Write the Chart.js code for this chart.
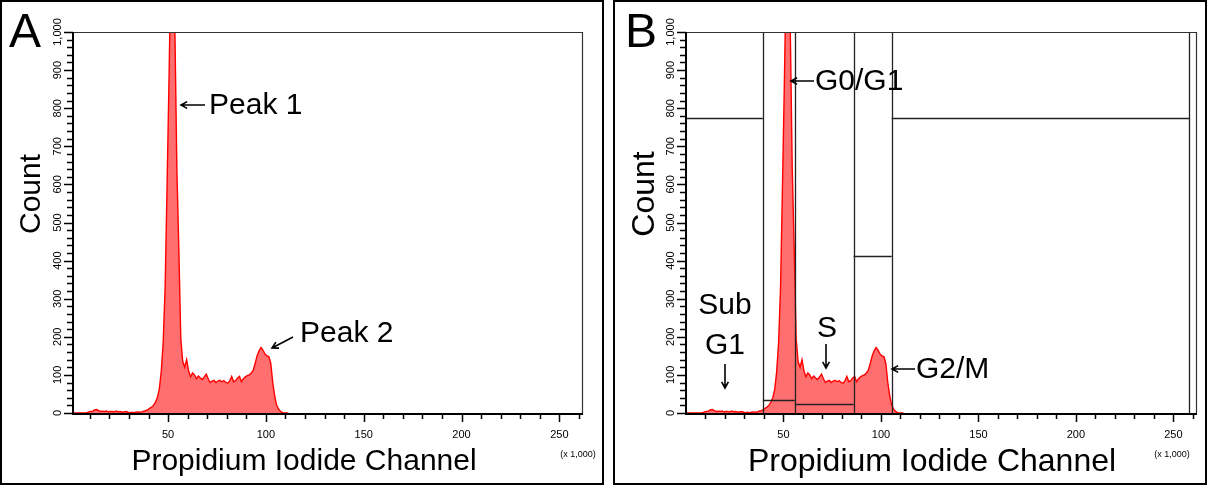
<!DOCTYPE html>
<html><head><meta charset="utf-8">
<script src="https://cdn.jsdelivr.net/npm/chart.js@4.4.1/dist/chart.umd.min.js"></script>
<style>
html,body{margin:0;padding:0;background:#fff;width:1207px;height:485px;overflow:hidden;}
.box{position:absolute;border:2px solid #000;box-sizing:border-box;pointer-events:none;}
.wrap{position:absolute;top:0;height:485px;}
canvas{display:block;}
</style></head><body>
<div class="wrap" style="left:0;width:604px"><canvas id="ca" width="604" height="485"></canvas></div>
<div class="wrap" style="left:604px;width:603px"><canvas id="cb" width="603" height="485"></canvas></div>
<div class="box" style="left:0;top:0;width:604px;height:485px"></div>
<div class="box" style="left:613px;top:0;width:594px;height:485px"></div>
<script>
// ---- data (channel in units of 1,000; one bin per unit) ----
const binStart = 0;
const counts = [
  0,0,0,0,0,0,0,0,1,3,          // 0-9
  4,5,8,9,6,4,5,4,5,3,          // 10-19
  4,4,3,5,3,4,2,3,4,2,          // 20-29
  1,2,1,2,3,2,3,5,6,8,          // 30-39
  12,15,20,28,40,62,108,185,330,600, // 40-49
  880,1200,1200,1000,640,430,195,135,120,140, // 50-59
  110,95,105,100,90,97,92,88,95,102,  // 60-69
  90,80,84,86,80,84,86,82,85,80,      // 70-79
  78,84,96,82,85,92,96,82,90,95,      // 80-89
  98,100,105,112,130,150,163,172,165,155, // 90-99
  150,148,130,80,45,20,10,4,1,0,      // 100-109
  0,0
];
const xMajorTicks = [50,100,150,200,250];
const xTickLabels = ['50','100','150','200','250'];
const xMinorTicks = [10,20,30,40,60,70,80,90,110,120,130,140,160,170,180,190,210,220,230,240,260];
const yMajorTicks = [0,100,200,300,400,500,600,700,800,900,1000];
const yTickLabels = ['0','100','200','300','400','500','600','700','800','900','1,000'];
const yMinorTicks = [];
for (let v = 20; v < 1000; v += 20) if (v % 100) yMinorTicks.push(v);
// gates in panel B
const gateBounds = [0, 39.4, 55.8, 86, 105.5, 258];
const gateLevels = [774, 34, 24, 412, 774];

const FONT = '"Liberation Sans", Arial, Helvetica, sans-serif';

function arrow(ctx, x1, y1, x2, y2) {
  const ang = Math.atan2(y2 - y1, x2 - x1), h = 7, w = 0.5;
  ctx.beginPath();
  ctx.moveTo(x1, y1); ctx.lineTo(x2, y2);
  ctx.moveTo(x2 - h * Math.cos(ang - w), y2 - h * Math.sin(ang - w));
  ctx.lineTo(x2, y2);
  ctx.lineTo(x2 - h * Math.cos(ang + w), y2 - h * Math.sin(ang + w));
  ctx.stroke();
}

function makePanel(canvasId, cfg) {
  const plugin = {
    id: 'deco_' + canvasId,
    afterDatasetsDraw(chart) {
      const ctx = chart.ctx, xs = chart.scales.x, ys = chart.scales.y;
      if (cfg.gates) {
        ctx.save();
        ctx.strokeStyle = '#222'; ctx.lineWidth = 1.3;
        for (let i = 1; i < gateBounds.length; i++) {
          const px = Math.round(xs.getPixelForValue(gateBounds[i])) + 0.5;
          ctx.beginPath(); ctx.moveTo(px, ys.getPixelForValue(1000)); ctx.lineTo(px, ys.getPixelForValue(0)); ctx.stroke();
        }
        for (let i = 0; i < gateLevels.length; i++) {
          const py = Math.round(ys.getPixelForValue(gateLevels[i])) + 0.5;
          ctx.beginPath(); ctx.moveTo(xs.getPixelForValue(Math.max(gateBounds[i], xs.min)), py);
          ctx.lineTo(xs.getPixelForValue(gateBounds[i + 1]), py); ctx.stroke();
        }
        ctx.restore();
      }
    },
    afterDraw(chart) {
      const ctx = chart.ctx, xs = chart.scales.x, ys = chart.scales.y, a = chart.chartArea;
      ctx.save();
      ctx.strokeStyle = '#333'; ctx.lineWidth = 1.2;
      ctx.beginPath(); ctx.moveTo(a.left, a.top + 0.5); ctx.lineTo(a.right - 0.5, a.top + 0.5); ctx.lineTo(a.right - 0.5, a.bottom); ctx.stroke();
      ctx.strokeStyle = '#000'; ctx.lineWidth = 2;
      ctx.beginPath(); ctx.moveTo(a.left, a.top); ctx.lineTo(a.left, a.bottom + 1); ctx.lineTo(a.right, a.bottom + 1); ctx.stroke();
      ctx.lineWidth = 1.5;
      ctx.beginPath();
      xMajorTicks.forEach(v => { const p = Math.round(xs.getPixelForValue(v)) + 0.5; ctx.moveTo(p, a.bottom); ctx.lineTo(p, a.bottom + 9); });
      xMinorTicks.forEach(v => { const p = Math.round(xs.getPixelForValue(v)) + 0.5; ctx.moveTo(p, a.bottom); ctx.lineTo(p, a.bottom + 6); });
      yMajorTicks.forEach(v => { const p = Math.round(ys.getPixelForValue(v)) + 0.5; ctx.moveTo(a.left, p); ctx.lineTo(a.left - 9, p); });
      yMinorTicks.forEach(v => { const p = Math.round(ys.getPixelForValue(v)) + 0.5; ctx.moveTo(a.left, p); ctx.lineTo(a.left - 6, p); });
      ctx.stroke();
      ctx.fillStyle = '#000';
      ctx.font = '11px ' + FONT; ctx.textAlign = 'center'; ctx.textBaseline = 'middle';
      xMajorTicks.forEach((v, i) => ctx.fillText(xTickLabels[i], xs.getPixelForValue(v), a.bottom + 22));
      yMajorTicks.forEach((v, i) => {
        ctx.save(); ctx.translate(a.left - 15, ys.getPixelForValue(v)); ctx.rotate(-Math.PI / 2);
        ctx.fillText(yTickLabels[i], 0, 0); ctx.restore();
      });
      ctx.font = '9px ' + FONT;
      ctx.fillText('(x 1,000)', cfg.unitX, 455);
      ctx.font = cfg.titleSize + 'px ' + FONT;
      ctx.fillText('Propidium Iodide Channel', cfg.xTitleX, 462);
      ctx.save(); ctx.translate(a.left - 41, 194); ctx.rotate(-Math.PI / 2);
      ctx.fillText('Count', 0, 0); ctx.restore();
      ctx.font = '48px ' + FONT; ctx.textAlign = 'left'; ctx.textBaseline = 'alphabetic';
      ctx.fillText(cfg.letter, cfg.letterX, 47);
      ctx.font = '30px ' + FONT; ctx.textBaseline = 'middle';
      ctx.lineWidth = 1.6; ctx.strokeStyle = '#000';
      cfg.notes.forEach(n => {
        ctx.textAlign = n.align || 'left';
        ctx.fillText(n.text, n.x, n.y);
      });
      cfg.arrows.forEach(r => arrow(ctx, r[0], r[1], r[2], r[3]));
      ctx.restore();
    }
  };
  return new Chart(document.getElementById(canvasId), {
    type: 'line',
    data: { datasets: [{
      data: counts.map((c, i) => ({ x: binStart + i + 0.5, y: c })),
      fill: 'origin', tension: 0,
      backgroundColor: '#ff6f6f', borderColor: '#ff0000', borderWidth: 1.4,
      pointRadius: 0
    }] },
    options: {
      responsive: false, animation: false, devicePixelRatio: 1,
      layout: { padding: { top: 32, right: cfg.padRight, left: 0, bottom: 0 } },
      plugins: { legend: { display: false }, tooltip: { enabled: false } },
      scales: {
        x: { type: 'linear', min: cfg.xmin, max: 262.1, grid: { display: false }, border: { display: false },
             ticks: { display: false }, afterFit(s) { s.height = 72; } },
        y: { type: 'linear', min: 0, max: 1000, grid: { display: false }, border: { display: false },
             ticks: { display: false }, afterFit(s) { s.width = cfg.left; } }
      }
    },
    plugins: [plugin]
  });
}

makePanel('ca', {
  letter: 'A', letterX: 9, left: 73, padRight: 21, xmin: 1.4, titleSize: 30,
  xTitleX: 304, unitX: 578, gates: false,
  notes: [ { text: 'Peak 1', x: 209, y: 106 }, { text: 'Peak 2', x: 300, y: 334 } ],
  arrows: [ [205, 105, 181, 105], [293, 337, 272, 348] ]
});
makePanel('cb', {
  letter: 'B', letterX: 21, left: 82, padRight: 10, xmin: 0, titleSize: 32,
  xTitleX: 328, unitX: 568, gates: true,
  notes: [ { text: 'G0/G1', x: 211, y: 82 }, { text: 'Sub', x: 121, y: 306, align: 'center' },
           { text: 'G1', x: 121, y: 346, align: 'center' }, { text: 'S', x: 223, y: 329, align: 'center' },
           { text: 'G2/M', x: 312, y: 370 } ],
  arrows: [ [210, 81, 187, 81], [121, 364, 121, 388], [222, 344, 222, 368], [311, 369, 288, 369] ]
});
</script>
</body></html>
